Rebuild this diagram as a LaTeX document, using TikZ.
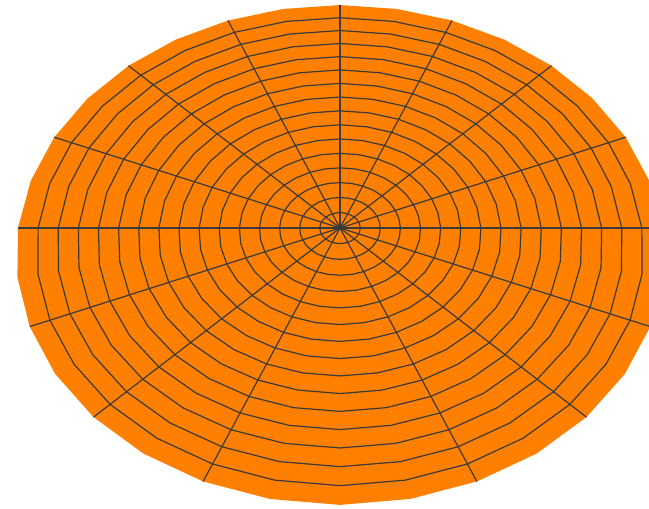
\documentclass[tikz,border=0pt]{standalone}
\definecolor{fillc}{RGB}{255,128,0}
\definecolor{meshc}{HTML}{3A3A3A}
\begin{document}
\begin{tikzpicture}[x=1pt,y=1pt,
  declare function={den(\v)=1+0.108*\v; PX(\u,\v)=340+322*\u/den(\v); PY(\u,\v)=281+247*\v/den(\v);},
  meshline/.style={draw=meshc,line width=1.2pt,line join=round}]
\useasboundingbox (0,0) rectangle (649,509);
\clip (0,0) rectangle (649,509);
\coordinate (c) at (340,281);
% disk fill
\fill[fillc] plot[domain=0:360,samples=33,variable=\t]
  ({PX(cos(\t),sin(\t))},{PY(cos(\t),sin(\t))}) -- cycle;
% rings
\foreach \k in {1,...,15}{
  \draw[meshline] plot[domain=0:360,samples=33,variable=\t]
    ({PX(\k/16*cos(\t),\k/16*sin(\t))},{PY(\k/16*cos(\t),\k/16*sin(\t))}) -- cycle;
}
% spokes
\foreach \a [count=\i] in {0,22.5,45,67.5,90,112.5,135,157.5,180,202.5,225,247.5,292.5,315,337.5}{
  \coordinate (s\i) at ({PX(cos(\a),sin(\a))},{PY(cos(\a),sin(\a))});
  \draw[meshline] (c) -- (s\i);
}
\end{tikzpicture}
\end{document}
